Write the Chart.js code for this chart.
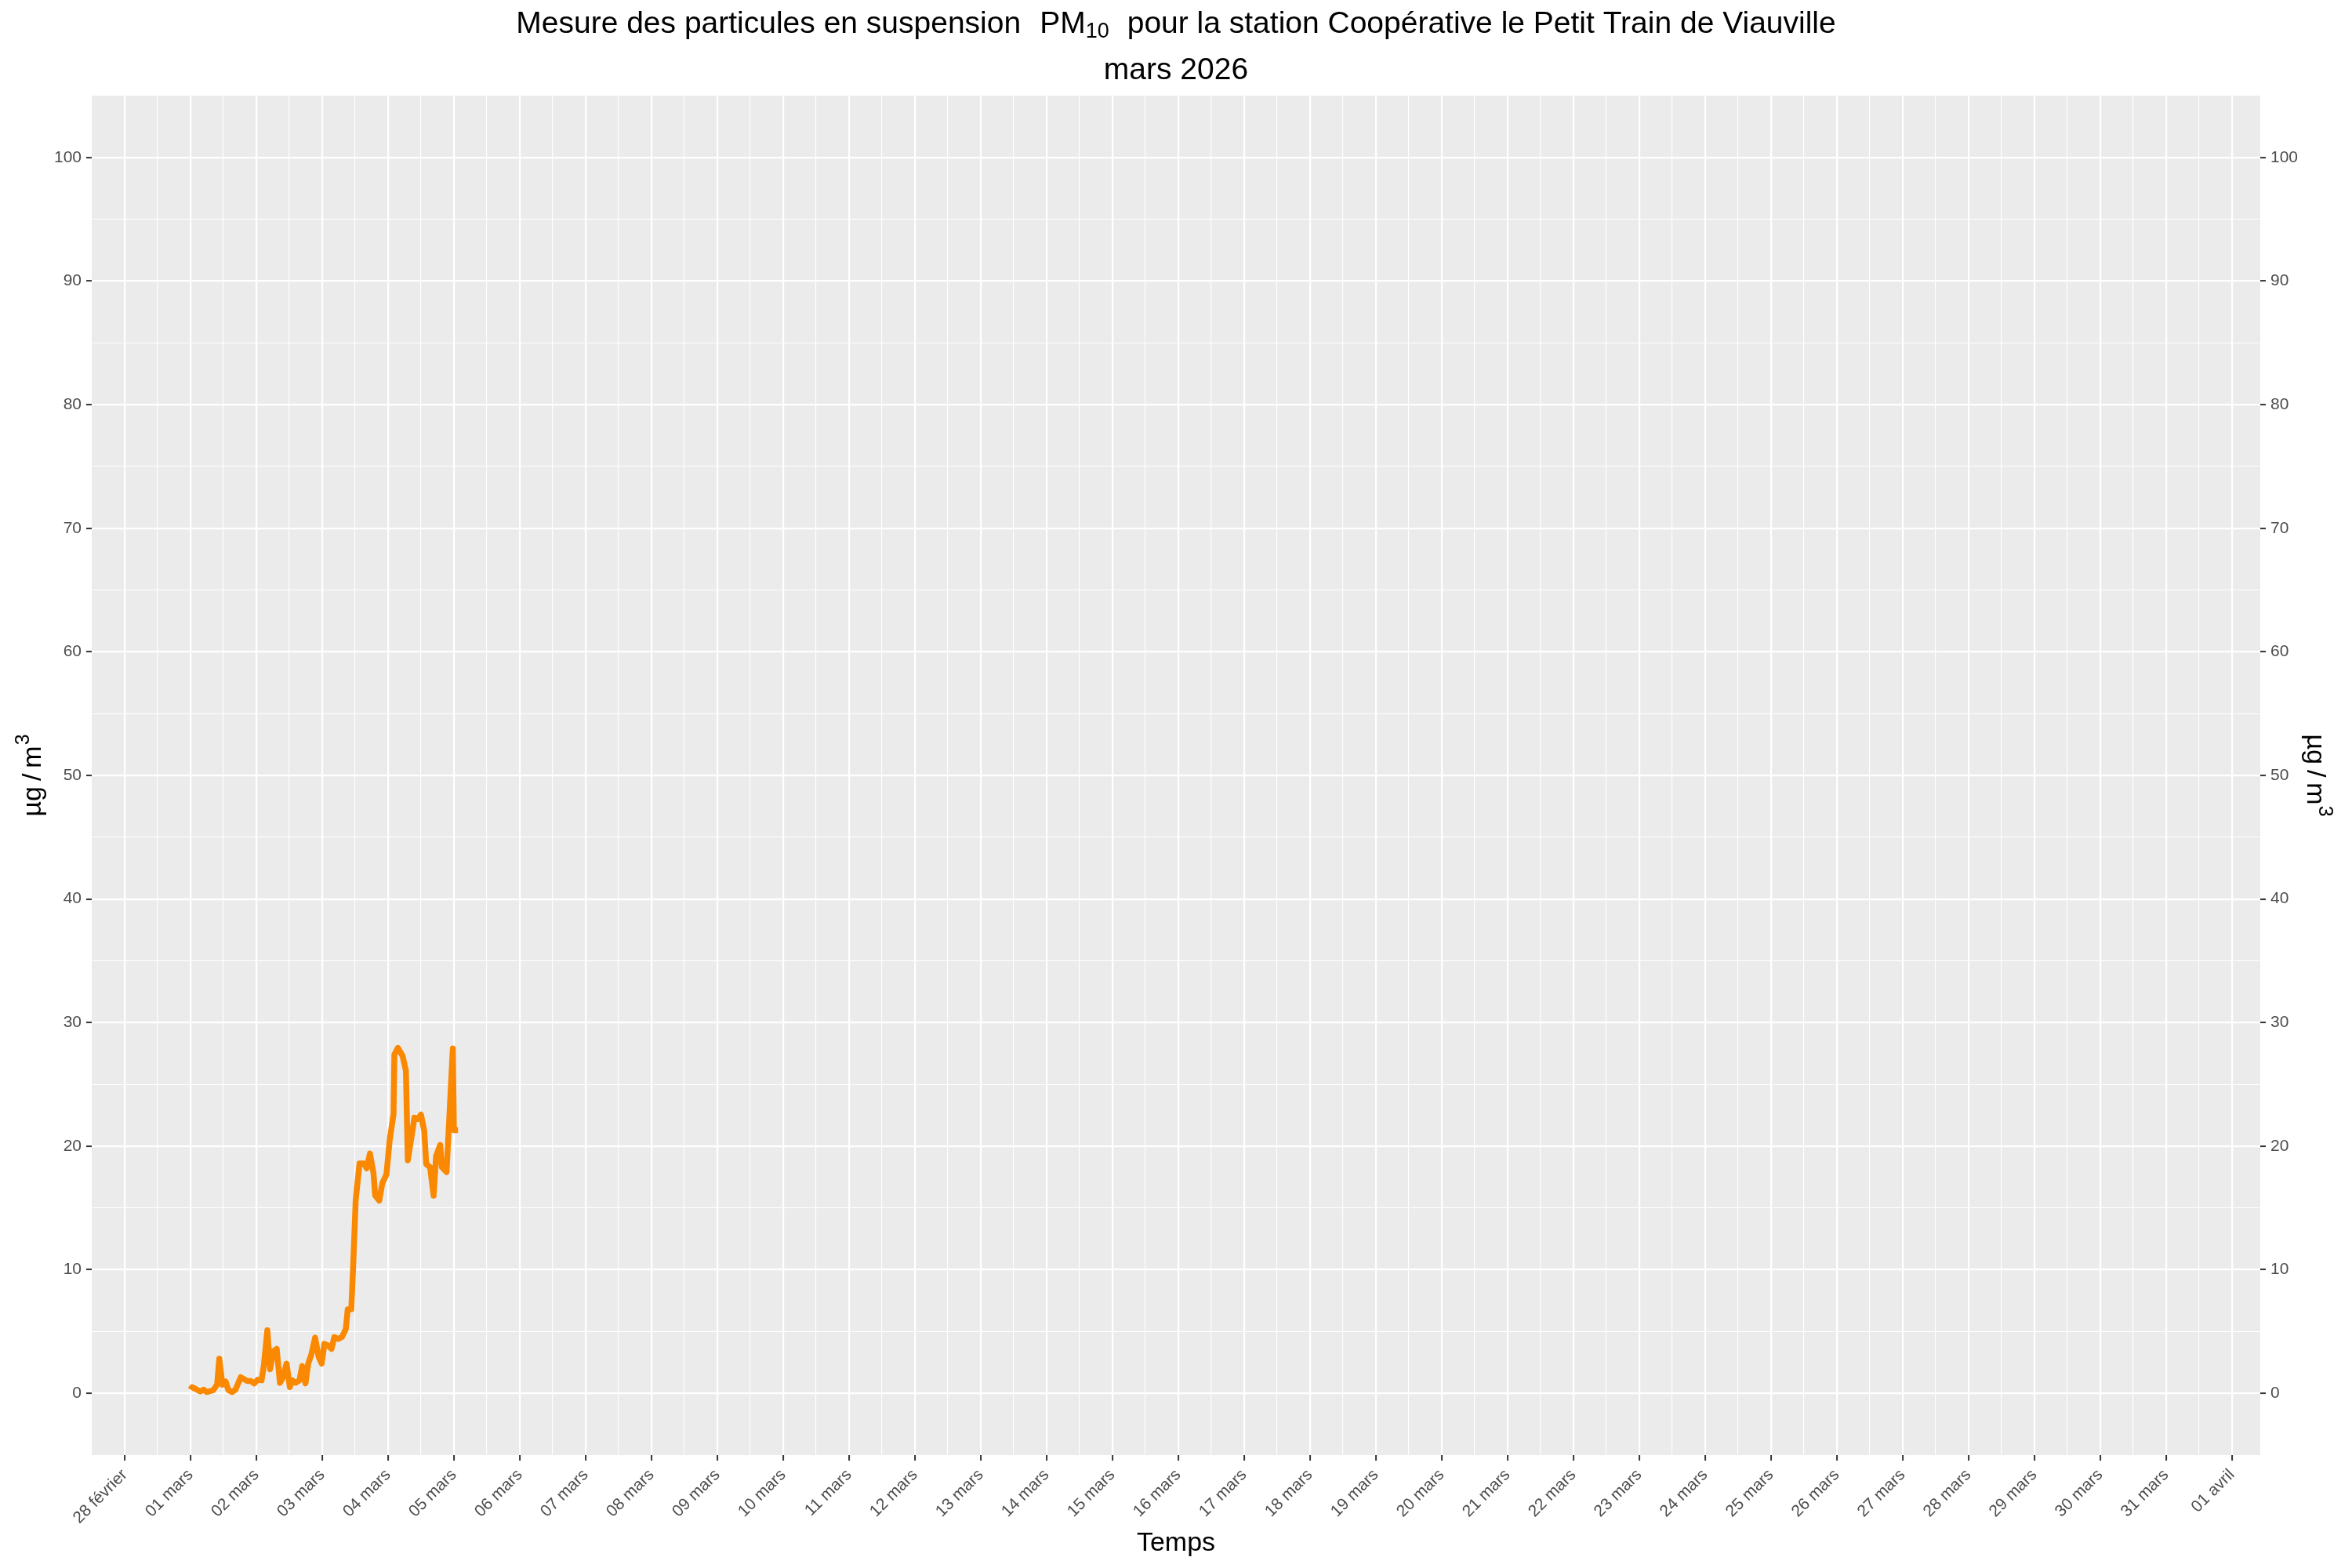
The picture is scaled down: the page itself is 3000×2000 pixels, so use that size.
<!DOCTYPE html>
<html>
<head>
<meta charset="utf-8">
<title>PM10 - mars 2026</title>
<script src="https://cdn.jsdelivr.net/npm/chart.js@4.4.0/dist/chart.umd.min.js"></script>
<style>
  html, body { margin: 0; padding: 0; background: #fff; }
  canvas { display: block; }
</style>
</head>
<body>
<canvas id="pm10Chart" width="3000" height="2000"></canvas>
<script>
// Heures écoulées depuis le 01 mars 00:00
const hours = [
  0, 0.6, 3.5, 4.8, 5.9, 8.3, 9.7, 10.5, 11.6, 12.8, 13.8, 15.2, 16.4, 18.3, 20.7, 22, 23.2,
  24.5, 25.9, 26.7, 28, 29, 30.2, 31.4, 32.6, 33.5, 35, 36.2, 37.1, 38.3, 39.7, 40.7, 41.9,
  42.9, 44, 45.4, 46.7, 47.8, 48.8, 50.2, 51.4, 52.4, 53.8, 55.2, 56.6, 57.3, 58.6, 59.2,
  60.2, 61.6, 63.2, 64.2, 65.4, 66.7, 67.3, 68.8, 69.9, 71.4, 72.6, 74, 74.3, 75.6, 77.3,
  78.5, 79.2, 80.7, 81.6, 82.9, 84, 85.2, 85.9, 87.3, 88.6, 89.5, 91, 91.6, 93.3, 94,
  95.6, 96, 97.5
];

// PM10 en µg/m3
const pm10 = [
  0.3, 0.5, 0.15, 0.3, 0.1, 0.25, 0.7, 2.8, 0.7, 0.95, 0.25, 0.1, 0.3, 1.3, 1.0, 1.0, 0.8,
  1.1, 1.05, 2.2, 5.1, 1.95, 3.4, 3.6, 0.85, 1.2, 2.4, 0.5, 1.05, 0.85, 1.05, 2.2, 0.8,
  2.4, 3.1, 4.5, 2.95, 2.4, 4.0, 3.85, 3.6, 4.55, 4.4, 4.55, 5.2, 6.8, 6.8, 9.85,
  15.6, 18.6, 18.6, 18.2, 19.4, 17.8, 16.0, 15.6, 17.0, 17.7, 20.5, 22.6, 27.4, 27.95, 27.3,
  26.1, 18.85, 20.95, 22.3, 22.2, 22.55, 21.2, 18.55, 18.3, 16.0, 19.2, 20.1, 18.3, 17.9, 20.85,
  27.9, 21.3, 21.3
];

// Étiquettes des jours (28 février = jour -1)
const dayLabels = [
  '28 février', '01 mars', '02 mars', '03 mars', '04 mars', '05 mars', '06 mars', '07 mars',
  '08 mars', '09 mars', '10 mars', '11 mars', '12 mars', '13 mars', '14 mars', '15 mars',
  '16 mars', '17 mars', '18 mars', '19 mars', '20 mars', '21 mars', '22 mars', '23 mars',
  '24 mars', '25 mars', '26 mars', '27 mars', '28 mars', '29 mars', '30 mars', '31 mars',
  '01 avril'
];
const firstDay = -1;

const yTicks = [0, 10, 20, 30, 40, 50, 60, 70, 80, 90, 100];

const FONT = '"Liberation Sans", Arial, Helvetica, sans-serif';
const isWhole = v => Math.abs(v - Math.round(v)) < 1e-6;

// ticks: majeurs (jours / dizaines) + mineurs (midi / 5)
const xGrid = [];
dayLabels.forEach((_, i) => { xGrid.push(firstDay + i); if (i < dayLabels.length - 1) xGrid.push(firstDay + i + 0.5); });
const yGrid = [];
yTicks.forEach((v, i) => { yGrid.push(v); if (i < yTicks.length - 1) yGrid.push(v + 5); });

function drawRich(ctx, parts, cx, cy, rot) {
  ctx.save();
  ctx.translate(cx, cy);
  ctx.rotate(rot);
  let total = 0;
  parts.forEach(p => {
    ctx.font = p.size + 'px ' + FONT;
    p.w = ctx.measureText(p.t).width;
    total += p.w + (p.gap || 0);
  });
  let x = -total / 2;
  ctx.fillStyle = '#000';
  ctx.textAlign = 'left';
  ctx.textBaseline = 'alphabetic';
  parts.forEach(p => {
    ctx.font = p.size + 'px ' + FONT;
    ctx.fillText(p.t, x, p.dy || 0);
    x += p.w + (p.gap || 0);
  });
  ctx.restore();
}

const panelBg = {
  id: 'panelBg',
  beforeDraw(chart) {
    const { ctx, chartArea: a } = chart;
    ctx.save();
    ctx.fillStyle = '#fff';
    ctx.fillRect(0, 0, chart.width, chart.height);
    ctx.fillStyle = '#EBEBEB';
    ctx.fillRect(a.left, a.top, a.right - a.left, a.bottom - a.top);
    ctx.restore();
  }
};

const titles = {
  id: 'titles',
  afterDraw(chart) {
    const ctx = chart.ctx;
    const a = chart.chartArea;
    const cx = chart.width / 2;
    drawRich(ctx, [
      { t: 'Mesure des particules en suspension', size: 39, gap: 24 },
      { t: 'PM', size: 39 },
      { t: '10', size: 27, dy: 6, gap: 23 },
      { t: 'pour la station Coopérative le Petit Train de Viauville', size: 39 }
    ], cx, 42, 0);
    drawRich(ctx, [{ t: 'mars 2026', size: 39 }], cx, 101, 0);
    drawRich(ctx, [{ t: 'Temps', size: 34 }], (a.left + a.right) / 2, 1978, 0);
    const unit = [
      { t: 'µg', size: 34, gap: 7 },
      { t: '/', size: 34, gap: 7 },
      { t: 'm', size: 34, gap: 1 },
      { t: '3', size: 25, dy: -15 }
    ];
    const cy = (a.top + a.bottom) / 2;
    drawRich(ctx, unit, 52, cy, -Math.PI / 2);
    drawRich(ctx, unit, 2943, cy, Math.PI / 2);
  }
};

const tickFont = { family: FONT, size: 21 };

function yAxis(position) {
  return {
    type: 'linear',
    position: position,
    min: -5,
    max: 105,
    afterBuildTicks: s => { s.ticks = yGrid.map(v => ({ value: v })); },
    afterFit: s => { s.width = 117; },
    border: { display: false },
    grid: {
      drawOnChartArea: position === 'left',
      color: '#FFFFFF',
      lineWidth: c => (c.tick && c.tick.value % 10 === 0) ? 2.2 : 1.1,
      tickColor: c => (c.tick && c.tick.value % 10 === 0) ? '#333333' : 'rgba(0,0,0,0)',
      tickWidth: 2,
      tickLength: 7
    },
    ticks: {
      font: tickFont,
      color: '#4D4D4D',
      padding: 6,
      callback: v => (v % 10 === 0 ? String(v) : '')
    }
  };
}

new Chart(document.getElementById('pm10Chart').getContext('2d'), {
  type: 'line',
  data: {
    datasets: [{
      label: 'PM10',
      data: hours.map((h, i) => ({ x: h / 24, y: pm10[i] })),
      borderColor: '#FA8800',
      borderWidth: 7.5,
      borderJoinStyle: 'round',
      pointRadius: 0,
      tension: 0,
      fill: false
    }]
  },
  options: {
    responsive: false,
    animation: false,
    devicePixelRatio: 1,
    layout: { padding: { top: 122, left: 0, right: 0, bottom: 0 } },
    plugins: {
      legend: { display: false },
      title: { display: false },
      tooltip: { enabled: false }
    },
    scales: {
      x: {
        type: 'linear',
        min: -1.5,
        max: 31.43,
        afterBuildTicks: s => { s.ticks = xGrid.map(v => ({ value: v })); },
        afterFit: s => { s.height = 144; },
        border: { display: false },
        grid: {
          color: '#FFFFFF',
          lineWidth: c => (c.tick && isWhole(c.tick.value)) ? 2.2 : 1.1,
          tickColor: c => (c.tick && isWhole(c.tick.value)) ? '#333333' : 'rgba(0,0,0,0)',
          tickWidth: 2,
          tickLength: 7
        },
        ticks: {
          font: tickFont,
          color: '#4D4D4D',
          padding: 6,
          autoSkip: false,
          minRotation: 45,
          maxRotation: 45,
          callback: v => isWhole(v) ? dayLabels[Math.round(v) - firstDay] : ''
        }
      },
      y: yAxis('left'),
      y2: yAxis('right')
    }
  },
  plugins: [panelBg, titles]
});
</script>
</body>
</html>
